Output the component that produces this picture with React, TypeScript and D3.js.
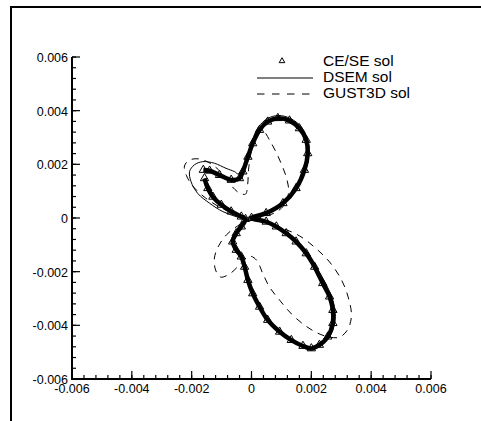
import React from "react";
import * as d3 from "d3";

const tickValues = [-0.006, -0.004, -0.002, 0, 0.002, 0.004, 0.006];
const tickLabels = ["-0.006", "-0.004", "-0.002", "0", "0.002", "0.004", "0.006"];
const legendLabels = ["CE/SE sol", "DSEM sol", "GUST3D sol"];

// CE/SE solution (x, y)
const ceseX = [-0.00161, -0.0014, -0.00107, -0.00068, -0.0004, -0.00029, -0.00012, 0.00004, 0.00027, 0.00054, 0.00088, 0.00127, 0.00160, 0.00183, 0.00188, 0.00177, 0.00149, 0.00105, 0.00049, 0.0, 0.00049, 0.00083, 0.00116, 0.00149, 0.00183, 0.00211, 0.00238, 0.00261, 0.00272, 0.00272, 0.00255, 0.00227, 0.002, 0.00172, 0.00133, 0.00094, 0.00054, 0.00027, 0.00004, -0.00012, -0.00023, -0.00034, -0.00051, -0.00063, -0.00051, -0.00034, -0.0002, -0.00034, -0.00068, -0.00101, -0.00129, -0.00146, -0.00157];
const ceseY = [0.00179, 0.00176, 0.0016, 0.00142, 0.00148, 0.00173, 0.00228, 0.00278, 0.00328, 0.00359, 0.00372, 0.00363, 0.00334, 0.00291, 0.00241, 0.00179, 0.00111, 0.00055, 0.00018, 0.0, -0.00014, -0.00032, -0.00057, -0.00088, -0.00132, -0.00182, -0.00243, -0.00293, -0.00343, -0.00392, -0.00442, -0.00473, -0.00486, -0.00477, -0.00455, -0.00424, -0.0038, -0.00331, -0.00281, -0.00231, -0.00182, -0.00144, -0.00119, -0.00088, -0.00057, -0.00032, -0.00004, 0.00005, 0.00024, 0.00049, 0.00079, 0.00111, 0.00148];

// DSEM solution
const dsemX = [0.0, 0.0005, 0.00107, 0.0015, 0.00181, 0.00192, 0.00187, 0.00167, 0.0013, 0.0009, 0.00054, 0.00023, 0.00003, -0.00013, -0.00028, -0.00044, -0.00057, -0.00085, -0.00124, -0.00163, -0.00191, -0.00207, -0.00202, -0.0018, -0.0014, -0.00096, -0.00051, -0.00018, -0.00033, -0.0005, -0.0006, -0.0005, -0.00033, -0.00022, -0.0001, 0.00007, 0.00028, 0.00057, 0.00095, 0.00134, 0.00174, 0.00201, 0.00231, 0.00261, 0.00278, 0.00279, 0.00267, 0.00247, 0.00217, 0.00187, 0.00152, 0.00117, 0.00084, 0.0005, 0.0];
const dsemY = [0.0, 0.00019, 0.00056, 0.00112, 0.00179, 0.00242, 0.00294, 0.00339, 0.00371, 0.00382, 0.00371, 0.00339, 0.00291, 0.00235, 0.00183, 0.00164, 0.00173, 0.00185, 0.00204, 0.0021, 0.00198, 0.00173, 0.00135, 0.00092, 0.00055, 0.00024, 0.00005, -0.00005, -0.00034, -0.0006, -0.00089, -0.00119, -0.00145, -0.00183, -0.00231, -0.00281, -0.00332, -0.00382, -0.00427, -0.00458, -0.00481, -0.0049, -0.00477, -0.00444, -0.00391, -0.00343, -0.00291, -0.00242, -0.00183, -0.0013, -0.00088, -0.00056, -0.00032, -0.00013, 0.0];

// GUST3D solution
const gustX = [0.0001, 0.00077, 0.0011, 0.00124, 0.00117, 0.001, 0.0008, 0.0006, 0.0004, 0.0002, 0.00007, -0.00003, -0.0001, -0.00013, -0.0002, -0.0004, -0.00064, -0.001, -0.00134, -0.00174, -0.00207, -0.00224, -0.00217, -0.00194, -0.00154, -0.001, -0.00047, 0.0, 0.0006, 0.0011, 0.00161, 0.00214, 0.00261, 0.00301, 0.00324, 0.00334, 0.00321, 0.00294, 0.00261, 0.00221, 0.00177, 0.00134, 0.00094, 0.0006, 0.00037, 0.00017, -0.00007, -0.0004, -0.00074, -0.00104, -0.0012, -0.00124, -0.0011, -0.00084, -0.00047, 0.0];
const gustY = [-0.00004, 0.00019, 0.00049, 0.00097, 0.00149, 0.00201, 0.0025, 0.00291, 0.00324, 0.00328, 0.00291, 0.00235, 0.00179, 0.00123, 0.00089, 0.00093, 0.00116, 0.00168, 0.00201, 0.0022, 0.00216, 0.00194, 0.00157, 0.00116, 0.00075, 0.00037, 0.00015, 0.0, -0.00022, -0.00041, -0.00067, -0.00112, -0.00164, -0.00231, -0.00298, -0.00365, -0.00417, -0.00444, -0.00444, -0.00429, -0.00399, -0.00358, -0.00306, -0.00257, -0.00205, -0.00157, -0.00142, -0.00175, -0.00209, -0.0022, -0.00194, -0.00149, -0.00104, -0.00063, -0.0003, 0.0];

const W = 481;
const H = 421;

export default function App() {
  const x = d3.scaleLinear().domain([-0.006, 0.006]).range([72, 431]);
  const y = d3.scaleLinear().domain([-0.006, 0.006]).range([379, 57]);
  const minor = d3.range(-0.006, 0.00601, 0.0004);

  const mk = (xs: number[], ys: number[]) => xs.map((v, i) => [v, ys[i]] as [number, number]);
  const line = d3
    .line<[number, number]>()
    .x((d) => x(d[0]))
    .y((d) => y(d[1]))
    .curve(d3.curveCatmullRom.alpha(0.5));

  const cese = mk(ceseX, ceseY);
  const dsem = mk(dsemX, dsemY);
  const gust = mk(gustX, gustY);

  const tri = d3.symbol().type(d3.symbolTriangle).size(14)() as string;
  const triBig = d3.symbol().type(d3.symbolTriangle).size(30)() as string;
  const font = "'Liberation Sans', Arial, Helvetica, sans-serif";

  return (
    <svg
      width={W}
      height={H}
      style={{ position: "absolute", left: 0, top: 0, background: "#fff" }}
    >
      <rect x={0} y={0} width={W} height={H} fill="#fff" />
      <rect x={11} y={7} width={W + 10} height={H + 10} fill="none" stroke="#000" strokeWidth={2} />

      {/* curves */}
      <path d={line(gust) || ""} fill="none" stroke="#000" strokeWidth={1} strokeDasharray="7,6" />
      <path d={line(dsem) || ""} fill="none" stroke="#000" strokeWidth={1} />
      <path d={line(cese) || ""} fill="none" stroke="#000" strokeWidth={4.5} strokeLinejoin="round" />
      {cese.map((d, i) => (
        <path
          key={i}
          d={triBig}
          transform={`translate(${x(d[0])},${y(d[1])})`}
          fill="none"
          stroke="#000"
          strokeWidth={1}
        />
      ))}

      {/* axes */}
      <g stroke="#000" strokeWidth={1.2}>
        {minor.map((v, i) => (
          <line key={"xm" + i} x1={x(v)} x2={x(v)} y1={379} y2={375} />
        ))}
        {minor.map((v, i) => (
          <line key={"ym" + i} x1={72} x2={76} y1={y(v)} y2={y(v)} />
        ))}
        {tickValues.map((v, i) => (
          <line key={"xM" + i} x1={x(v)} x2={x(v)} y1={379} y2={371} />
        ))}
        {tickValues.map((v, i) => (
          <line key={"yM" + i} x1={72} x2={80} y1={y(v)} y2={y(v)} />
        ))}
      </g>
      <path d={`M${x(-0.006)},${y(0.006)}V${y(-0.006)}H${x(0.006)}`} fill="none" stroke="#000" strokeWidth={2} />

      <g fontFamily={font} fontSize={12.5} fill="#000">
        {tickValues.map((v, i) => (
          <text key={"xl" + i} x={x(v)} y={393} textAnchor="middle">
            {tickLabels[i]}
          </text>
        ))}
        {tickValues.map((v, i) => (
          <text key={"yl" + i} x={68} y={y(v) + 5} textAnchor="end">
            {tickLabels[i]}
          </text>
        ))}
      </g>

      {/* legend */}
      <g fontFamily={font} fontSize={15.5} fill="#000">
        <path d={tri} transform="translate(282,61)" fill="#fff" stroke="#000" strokeWidth={1} />
        <line x1={257} x2={313} y1={78} y2={78} stroke="#000" strokeWidth={1} />
        <line x1={257} x2={313} y1={94} y2={94} stroke="#000" strokeWidth={1} strokeDasharray="7.5,7.5" />
        {legendLabels.map((t, i) => (
          <text key={t} x={323} y={66 + i * 16}>
            {t}
          </text>
        ))}
      </g>
    </svg>
  );
}
